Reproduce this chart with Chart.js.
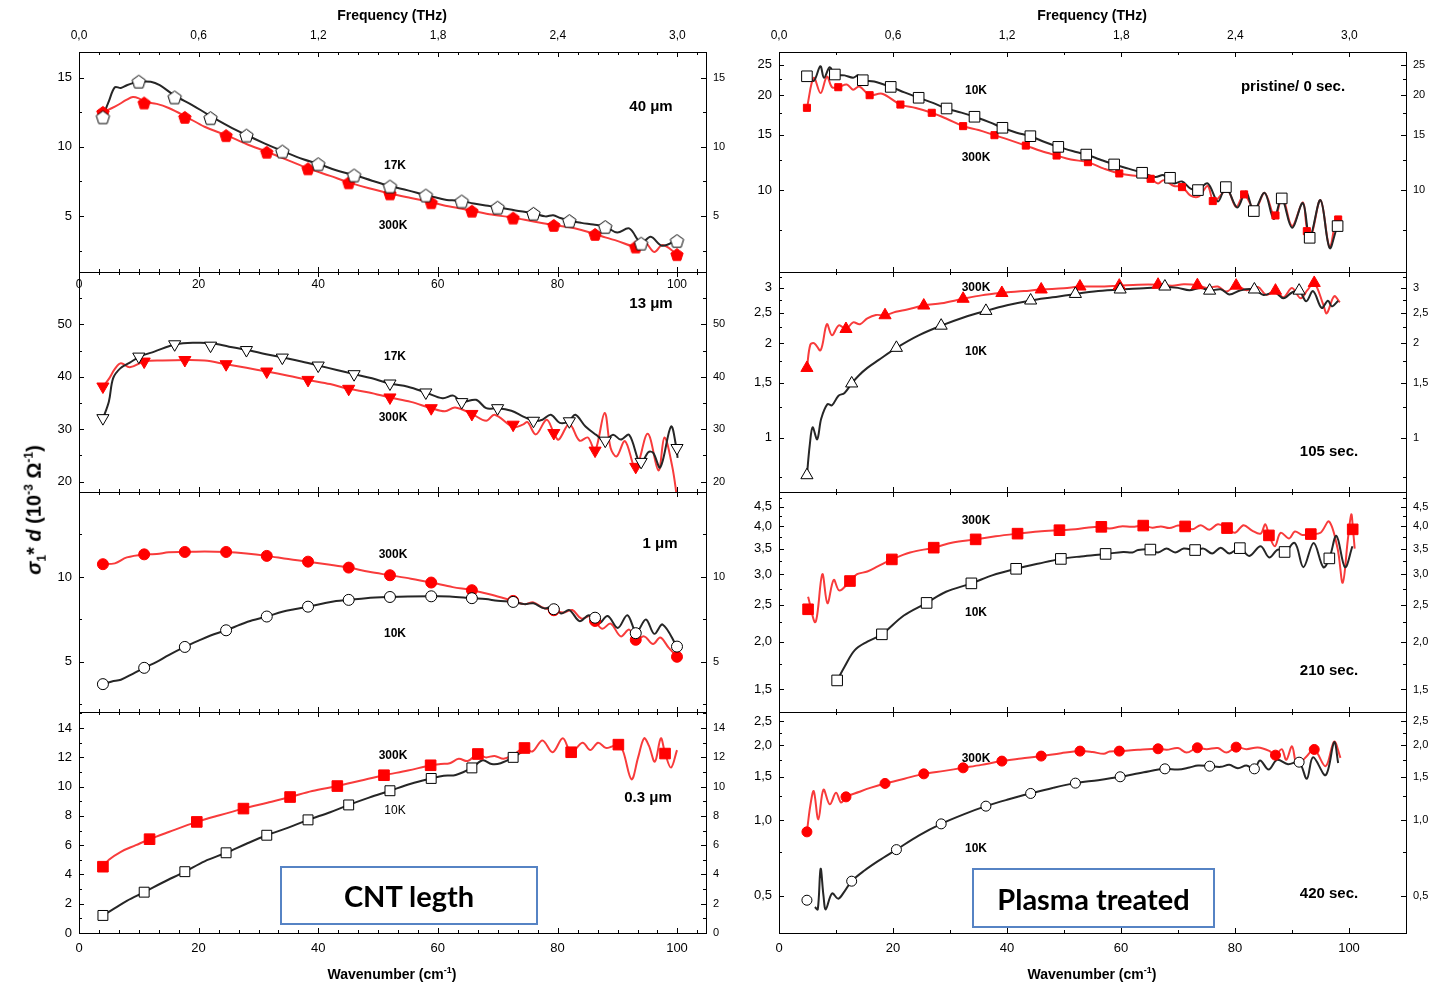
<!DOCTYPE html>
<html>
<head>
<meta charset="utf-8">
<script src="https://cdn.jsdelivr.net/npm/chart.js@4.4.0/dist/chart.umd.min.js"></script>
<style>
  body { margin: 0; background: #fff; }
  #page { position: relative; width: 1440px; height: 984px; overflow: hidden; font-family: "Liberation Sans", Arial, sans-serif; }
  #charts canvas { position: absolute; left: 0; top: 0; }
  .ttl { position: absolute; font-weight: bold; font-size: 14px; white-space: nowrap; transform: translateX(-50%); }
  .ttl sup { font-size: 9px; }
  .box { position: absolute; box-sizing: border-box; border: 2px solid #5683c4; display: flex; align-items: center; justify-content: center;
         font-family: Lato, "Open Sans", sans-serif; font-weight: bold; font-size: 29px; color: #000; }
  #ytitle { position: absolute; left: 35px; top: 510px; transform: translate(-50%, -50%) rotate(-90deg); font-weight: bold; font-size: 20px; white-space: nowrap; }
  #ytitle sup, #ytitle sub { font-size: 12px; }
</style>
</head>
<body>
<div id="page">
  <div id="charts"></div>
  <div class="ttl" style="left:392px; top:7px;">Frequency (THz)</div>
  <div class="ttl" style="left:1092px; top:7px;">Frequency (THz)</div>
  <div class="ttl" style="left:392px; top:965px;">Wavenumber (cm<sup>-1</sup>)</div>
  <div class="ttl" style="left:1092px; top:965px;">Wavenumber (cm<sup>-1</sup>)</div>
  <div id="ytitle"><i>σ</i><sub>1</sub>* <i>d</i> (10<sup>-3</sup> Ω<sup>-1</sup>)</div>
  <div class="box" style="left:280px; top:866px; width:258px; height:59px;">CNT legth</div>
  <div class="box" style="left:972px; top:868px; width:243px; height:60px;">Plasma treated</div>
</div>
<script>
// ---- tick labels ----
const wnTickVals = [0, 20, 40, 60, 80, 100];
const wnTickLabels = ['0', '20', '40', '60', '80', '100'];
const thzTickVals = [0, 0.6, 1.2, 1.8, 2.4, 3.0];
const thzTickLabels = ['0,0', '0,6', '1,2', '1,8', '2,4', '3,0'];
const THZ_CM = 33.356; // cm-1 per THz

const L1_yVals = [5, 10, 15], L1_yLabels = ['5', '10', '15'], L1_yMinor = [2.5, 7.5, 12.5];
const L2_yVals = [20, 30, 40, 50], L2_yLabels = ['20', '30', '40', '50'], L2_yMinor = [25, 35, 45, 55];
const L3_yVals = [5, 10], L3_yLabels = ['5', '10'], L3_yMinor = [2.5, 7.5, 12.5];
const L4_yVals = [0, 2, 4, 6, 8, 10, 12, 14], L4_yLabels = ['0', '2', '4', '6', '8', '10', '12', '14'], L4_yMinor = [1, 3, 5, 7, 9, 11, 13, 15];
const R1_yVals = [10, 15, 20, 25], R1_yLabels = ['10', '15', '20', '25'], R1_yMinor = [7.5, 12.5, 17.5, 22.5];
const R2_yVals = [1, 1.5, 2, 2.5, 3], R2_yLabels = ['1', '1,5', '2', '2,5', '3'], R2_yMinor = [0.75, 1.25, 1.75, 2.25, 2.75, 3.25];
const R3_yVals = [1.5, 2, 2.5, 3, 3.5, 4, 4.5], R3_yLabels = ['1,5', '2,0', '2,5', '3,0', '3,5', '4,0', '4,5'], R3_yMinor = [1.75, 2.25, 2.75, 3.25, 3.75, 4.25, 4.75];
const R4_yVals = [0.5, 1, 1.5, 2, 2.5], R4_yLabels = ['0,5', '1,0', '1,5', '2,0', '2,5'], R4_yMinor = [0.75, 1.25, 1.75, 2.25];

// ---- series: [wavenumber, value] ----
// CNT 40 um
const L1_17K = [[4,12.2],[5,13.3],[6,14.3],[7,14.25],[8,14.45],[9,14.6],[10,14.7],[12,14.7],[13.5,14.45],[16,13.7],[19,13.0],[21.5,12.35],[25,11.5],[28,10.85],[31,10.25],[34,9.7],[37.5,9.1],[40,8.77],[43,8.3],[46,7.96],[49,7.55],[52,7.16],[55,6.85],[58,6.5],[60,6.3],[61.5,6.15],[63,6.12],[64,6.08],[66,5.9],[68,5.75],[70,5.63],[73,5.4],[76,5.19],[78,4.97],[79.3,5.05],[80.5,4.85],[82,4.66],[84,4.5],[86,4.38],[88,4.23],[90,3.8],[92,4.1],[94,3.05],[95.6,3.5],[97.5,2.85],[100,3.25]];
const L1_17K_pts = [[4,12.16],[10,14.74],[16,13.6],[22,12.1],[28,10.84],[34,9.69],[40,8.77],[46,7.96],[52,7.16],[58,6.51],[64,6.08],[70,5.63],[76,5.19],[82,4.66],[88,4.23],[94,3.03],[100,3.22]];
const L1_300K = [[4,12.5],[6,12.9],[8,13.4],[9,13.6],[10,13.5],[11,13.25],[13,13.1],[15,12.8],[18,12.15],[21,11.45],[24.6,10.84],[28,10.2],[31.4,9.64],[35,9.02],[38.3,8.44],[42,7.9],[45.1,7.43],[48.5,7.0],[52,6.63],[55.5,6.3],[58.9,5.99],[62,5.68],[65.7,5.38],[69,5.1],[72.6,4.88],[76,4.6],[79.4,4.35],[82,4.18],[84,3.98],[86.3,3.7],[88,3.45],[90,3.2],[93.1,2.79],[94.6,3.1],[96.2,2.4],[97.6,2.9],[100,2.24]];
const L1_300K_pts = [[4,12.52],[10.9,13.2],[17.7,12.16],[24.6,10.84],[31.4,9.64],[38.3,8.44],[45.1,7.43],[52,6.63],[58.9,5.99],[65.7,5.38],[72.6,4.88],[79.4,4.35],[86.3,3.7],[93.1,2.79],[100,2.24]];
// CNT 13 um
const L2_17K = [[4,32.0],[5,35.3],[5.7,39.7],[6.9,41.6],[8.5,42.7],[10.2,43.85],[12.6,44.8],[16.2,46.2],[19.6,46.5],[22.2,46.4],[25.1,45.75],[28.2,45.1],[31.3,44.3],[34.1,43.66],[37.2,42.9],[40.2,42.1],[43.1,41.3],[46,40.5],[49,39.7],[52,38.7],[55,38.1],[58,37.0],[60.8,35.9],[62.6,36.4],[64,35.2],[66.4,35.6],[68.1,34.0],[70,34.0],[72.3,33.5],[74.3,32.4],[76,31.6],[77.5,31.8],[78.9,32.75],[80.4,31.2],[81.9,31.5],[83,32.75],[84.7,30.5],[86.5,28.9],[87.9,27.8],[89.3,28.95],[90.6,28.0],[92,28.9],[93.9,23.4],[95.2,25.6],[96,25.5],[97.2,22.7],[99,30.5],[99.9,26.4],[100.1,24.5]];
const L2_17K_pts = [[4,32.1],[10,43.85],[16,46.2],[22,45.94],[28,45.1],[34,43.66],[40,42.14],[46,40.49],[52,38.71],[58,37.0],[64,35.16],[70,34.0],[76,31.6],[82,31.5],[88,27.8],[94,23.75],[100,26.4]];
const L2_300K = [[4,38.1],[5,39.6],[6,41.5],[7,42.6],[8.5,41.8],[10.9,42.9],[14,43.1],[17.7,43.2],[21,43.1],[24.6,42.4],[28,41.7],[31.4,41.0],[35,40.2],[38.3,39.4],[42,38.6],[45.1,37.7],[48.5,37.0],[52,36.05],[55.5,35.2],[58.9,34.0],[61.2,33.4],[62.9,34.15],[65.7,32.9],[68.1,31.6],[69.5,32.75],[72.6,30.4],[74.3,30.9],[75,31.35],[76.4,29.0],[78.2,31.8],[79.4,29.3],[80.2,28.0],[82,31.0],[83.7,27.8],[85.1,28.4],[86.3,25.9],[87.9,33.1],[88.9,26.4],[89.9,24.8],[91.3,27.7],[93.1,22.6],[95.1,29.1],[96.9,22.1],[97.9,28.4],[99.2,22.9],[100,16.9]];
const L2_300K_pts = [[4,38.14],[10.9,42.9],[17.7,43.2],[24.6,42.4],[31.4,41.0],[38.3,39.4],[45.1,37.7],[52,36.05],[58.9,34.0],[65.7,32.9],[72.6,30.85],[79.4,29.26],[86.3,25.9],[93.1,22.8]];
// CNT 1 um
const L3_10K = [[4,3.69],[5.5,3.85],[7,3.95],[9,4.3],[10.9,4.65],[13,5.0],[15,5.4],[17.7,5.88],[20,6.25],[22,6.55],[24.6,6.86],[27,7.2],[29,7.45],[31.4,7.67],[34,7.95],[36,8.1],[38.3,8.25],[41,8.45],[43,8.58],[45.1,8.65],[48,8.75],[52,8.82],[55,8.85],[58.9,8.86],[62,8.85],[65.7,8.75],[68,8.7],[70,8.6],[72.6,8.53],[74.5,8.4],[76,8.45],[77.8,8.15],[79.3,8.25],[80.6,7.85],[82,8.05],[83.7,7.4],[85.3,7.75],[86.9,7.25],[88.4,7.7],[90.1,7.0],[91.7,7.75],[93.2,6.75],[94.8,7.5],[96.2,6.65],[97.6,7.2],[100,5.9]];
const L3_10K_pts = [[4,3.69],[10.9,4.65],[17.7,5.88],[24.6,6.86],[31.4,7.67],[38.3,8.25],[45.1,8.65],[52,8.82],[58.9,8.86],[65.7,8.75],[72.6,8.53],[79.4,8.1],[86.3,7.6],[93.1,6.69],[100,5.9]];
const L3_300K = [[4,10.75],[6,10.8],[8,11.15],[10.9,11.33],[13,11.35],[15,11.45],[17.7,11.47],[21,11.5],[24.6,11.47],[28,11.38],[31.4,11.24],[35,11.05],[38.3,10.9],[42,10.72],[45.1,10.55],[48.5,10.3],[52,10.1],[55.5,9.9],[58.9,9.67],[62.5,9.4],[65.7,9.22],[69,8.95],[72.6,8.59],[74.5,8.4],[76,8.5],[77.5,8.2],[79.4,8.04],[81,7.9],[82.5,8.05],[84,7.55],[85.5,7.7],[86.3,7.41],[87.5,6.95],[88.9,7.25],[90.6,6.5],[92,6.9],[93.1,6.3],[94.5,6.5],[96,6.05],[97.2,6.43],[98.6,5.84],[100,5.3]];
const L3_300K_pts = [[4,10.75],[10.9,11.33],[17.7,11.47],[24.6,11.47],[31.4,11.24],[38.3,10.9],[45.1,10.55],[52,10.1],[58.9,9.67],[65.7,9.22],[72.6,8.59],[79.4,8.04],[86.3,7.41],[93.1,6.3],[100,5.3]];
// CNT 0.3 um
const L4_10K = [[4,1.2],[6,1.7],[8,2.2],[10.9,2.79],[14,3.45],[17.7,4.19],[21,4.9],[24.6,5.48],[28,6.1],[31.4,6.68],[35,7.2],[38.3,7.73],[42,8.25],[45.1,8.75],[48.5,9.25],[52,9.72],[55.5,10.2],[58.9,10.56],[61,10.75],[63,10.8],[65.7,11.28],[67.5,11.8],[69,11.55],[70.5,11.6],[72.6,12.0],[74.5,12.5]];
const L4_10K_pts = [[4,1.2],[10.9,2.79],[17.7,4.19],[24.6,5.48],[31.4,6.68],[38.3,7.73],[45.1,8.75],[52,9.72],[58.9,10.56],[65.7,11.28],[72.6,12.0]];
const L4_300K = [[4,4.5],[5,5.0],[7,5.55],[9.5,6.0],[11.8,6.41],[15,6.9],[19.7,7.59],[23.5,8.05],[27.5,8.5],[31.5,8.9],[35.3,9.29],[39,9.7],[43.2,10.04],[47,10.4],[51,10.78],[55,11.1],[58.8,11.46],[60.5,11.55],[62,11.6],[63.5,11.9],[65,11.75],[66.7,12.23],[68,12.0],[69.5,12.1],[71,11.9],[72.5,12.15],[74.5,12.64],[75.8,12.4],[77.5,13.15],[79.2,12.35],[80.9,13.3],[82.3,12.35],[84.2,13.0],[85.5,12.5],[86.8,13.0],[88.1,12.65],[89,12.72],[90.2,12.87],[91,12.4],[92.4,10.5],[93.5,12.0],[94.5,13.3],[95.3,12.8],[96.3,11.7],[97.3,13.3],[98,12.3],[99,11.3],[100,12.5]];
const L4_300K_pts = [[4,4.53],[11.8,6.41],[19.7,7.59],[27.5,8.5],[35.3,9.29],[43.2,10.04],[51,10.78],[58.8,11.46],[66.7,12.23],[74.5,12.64],[82.3,12.35],[90.2,12.87],[98,12.26]];
// plasma pristine / 0 s
const R1_10K = [[4.9,23.0],[6.1,22.2],[7.25,24.7],[7.9,22.7],[8.9,24.5],[9.8,23.25],[11.5,23.1],[13,22.7],[13.9,23.1],[14.7,22.3],[16.7,22.1],[19.6,21.24],[22,20.4],[24.5,19.62],[27,18.9],[29.4,18.14],[32,17.6],[34.3,17.08],[37,16.4],[39.2,15.76],[41.7,15.2],[44.1,14.82],[46.6,14.2],[49,13.71],[51.5,13.3],[53.9,12.96],[56.3,12.5],[58.8,12.06],[61.3,11.7],[63.7,11.35],[66,11.0],[67.5,11.15],[69.3,10.5],[70.7,10.65],[72.2,10.1],[73.5,10.0],[75.2,10.5],[77,9.2],[78.4,10.22],[80.4,8.8],[81.9,9.9],[83.3,8.58],[85.2,9.8],[86.8,8.1],[88.2,9.41],[90,7.6],[91.9,9.1],[93.1,7.06],[95,9.3],[96.6,6.55],[98,7.69],[98.4,7.6]];
const R1_10K_pts = [[4.9,22.95],[9.8,23.25],[14.7,22.3],[19.6,21.24],[24.5,19.62],[29.4,18.14],[34.3,17.08],[39.2,15.76],[44.1,14.82],[49,13.71],[53.9,12.96],[58.8,12.06],[63.7,11.35],[68.6,10.94],[73.5,10.0],[78.4,10.22],[83.3,8.58],[88.2,9.41],[93.1,7.06],[98,7.69]];
const R1_300K = [[4.9,18.2],[6.1,22.7],[7.3,20.3],[8.4,22.9],[9.3,21.2],[10.4,21.19],[11.9,21.6],[13,20.8],[14.1,21.3],[15.9,20.0],[18.1,20.2],[21.3,18.67],[24,18.2],[26.8,17.58],[29.5,16.8],[32.3,15.95],[35,15.5],[37.8,14.93],[40.5,14.4],[43.3,13.84],[46,13.3],[48.7,12.87],[51.2,12.5],[54.2,12.26],[57,11.7],[59.7,11.29],[62.5,11.1],[65.2,10.86],[66.5,10.5],[67.5,10.75],[69.3,10.3],[70.7,10.25],[72.2,9.6],[73.7,9.55],[75.2,10.3],[76.3,9.2],[78.6,10.0],[80.2,8.85],[81.6,9.69],[83.5,8.65],[85.2,9.8],[87,8.2],[88.3,9.5],[90,7.7],[91.9,9.15],[92.6,7.6],[93.3,7.1],[95,9.3],[96.6,6.6],[97.8,8.2],[98.3,8.0]];
const R1_300K_pts = [[4.9,18.23],[10.4,21.19],[15.9,19.99],[21.3,18.67],[26.8,17.58],[32.3,15.95],[37.8,14.93],[43.3,13.84],[48.7,12.87],[54.2,12.26],[59.7,11.29],[65.2,10.86],[70.7,10.22],[76.1,9.23],[81.6,9.69],[87.1,8.31],[92.6,7.41],[98.1,8.07]];
// plasma 105 s
const R2_10K = [[4.9,0.761],[5.4,0.95],[5.9,1.08],[6.7,0.99],[7.4,1.15],[8.5,1.28],[9.3,1.27],[10.4,1.36],[11.5,1.39],[12.75,1.49],[14,1.58],[15.5,1.67],[17.5,1.77],[20.6,1.934],[24.5,2.12],[28.45,2.275],[32.5,2.42],[36.3,2.535],[40,2.64],[44.2,2.735],[48,2.8],[52,2.87],[56,2.93],[59.85,2.965],[64,2.99],[67.7,3.02],[70,3.0],[72,2.95],[74,3.0],[75.55,2.94],[77.5,2.97],[79,2.86],[81,2.95],[83.4,2.965],[85,2.85],[87,2.9],[88.5,2.78],[90,2.9],[91.25,2.94],[92.5,2.72],[93.7,2.93],[95.2,2.59],[96.3,2.73],[97,2.62],[98.1,2.73]];
const R2_10K_pts = [[4.9,0.761],[12.75,1.49],[20.6,1.934],[28.45,2.275],[36.3,2.535],[44.15,2.735],[52,2.87],[59.85,2.965],[67.7,3.03],[75.55,2.94],[83.4,2.965],[91.25,2.94]];
const R2_300K = [[4.9,1.669],[5.5,1.98],[6.2,2.0],[7.3,1.9],[8.4,2.3],[9.3,2.12],[10.5,2.28],[11.75,2.22],[13,2.33],[14.2,2.3],[15.5,2.4],[17,2.46],[18.6,2.455],[20.5,2.52],[22.5,2.56],[25.4,2.636],[28.5,2.68],[32.3,2.77],[35.5,2.84],[39.1,2.89],[43,2.93],[46,2.965],[50,2.99],[52.8,3.03],[56,3.03],[59.7,3.05],[63,3.07],[66.5,3.07],[69,3.05],[71,3.08],[73.4,3.06],[75,3.0],[77,3.03],[78.5,2.92],[80.2,3.05],[82,2.95],[84,3.02],[85.5,2.85],[87.1,2.94],[88.5,2.8],[90,3.0],[91.5,2.78],[92.7,2.95],[93.9,3.11],[95.5,2.65],[96.1,2.49],[97.4,2.82],[98.4,2.7]];
const R2_300K_pts = [[4.9,1.669],[11.75,2.22],[18.6,2.455],[25.4,2.636],[32.3,2.77],[39.1,2.89],[46,2.965],[52.8,3.03],[59.7,3.05],[66.5,3.07],[73.4,3.06],[80.2,3.05],[87.1,2.94],[93.9,3.11]];
// plasma 210 s
const R3_10K = [[10.2,1.584],[11.5,1.72],[13.3,1.9],[15.5,2.0],[18.05,2.09],[21.9,2.34],[25.9,2.525],[29.3,2.7],[33.75,2.84],[37.4,2.98],[41.6,3.1],[45.6,3.2],[49.45,3.29],[53,3.34],[57.3,3.39],[60.4,3.43],[62,3.42],[63,3.47],[65.15,3.48],[66.5,3.42],[68,3.5],[69.5,3.42],[71,3.5],[73,3.47],[74.5,3.5],[76,3.4],[77.5,3.52],[79,3.4],[80.85,3.51],[82.5,3.35],[84.5,3.55],[86,3.32],[87.5,3.48],[88.7,3.43],[90.5,3.62],[92,3.13],[93.8,3.62],[95.5,3.13],[96.55,3.3],[97.8,3.78],[99.3,3.13],[100.6,3.55]];
const R3_10K_pts = [[10.2,1.584],[18.05,2.09],[25.9,2.525],[33.75,2.84],[41.6,3.1],[49.45,3.29],[57.3,3.39],[65.15,3.48],[73,3.47],[80.85,3.51],[88.7,3.43],[96.55,3.3]];
const R3_300K = [[5.1,2.62],[6.4,2.25],[7.6,3.0],[8.5,2.52],[9.6,2.9],[10.6,2.72],[12.45,2.88],[13.7,3.0],[15.5,3.05],[17.4,3.15],[19.8,3.28],[23,3.42],[27.15,3.52],[30.5,3.63],[34.5,3.7],[38,3.77],[41.85,3.83],[45.5,3.88],[49.2,3.91],[52,3.93],[54,3.97],[56.55,3.99],[58,3.95],[60,4.0],[62,3.99],[63.9,4.02],[65.5,3.97],[67,4.0],[68.5,3.96],[70,4.02],[71.25,4.0],[72.5,3.93],[74,4.03],[75.5,3.92],[77,4.05],[78.6,3.96],[80,3.85],[81.5,4.03],[83,3.9],[84.5,3.83],[85.3,4.05],[86,3.79],[87,3.55],[88,3.85],[89.5,3.72],[90.5,3.88],[91.8,3.8],[93.3,3.82],[95,3.85],[96.5,4.12],[98,3.5],[98.9,2.85],[99.8,3.7],[100.4,4.3],[100.7,3.93],[101,3.5]];
const R3_300K_pts = [[5.1,2.43],[12.45,2.88],[19.8,3.28],[27.15,3.52],[34.5,3.7],[41.85,3.83],[49.2,3.91],[56.55,3.99],[63.9,4.02],[71.25,4.0],[78.6,3.96],[85.95,3.79],[93.3,3.82],[100.65,3.93]];
// plasma 420 s
const R4_10K = [[6.3,0.45],[6.8,0.44],[7.3,0.64],[7.8,0.5],[8.2,0.44],[9.3,0.51],[10.4,0.486],[11.5,0.52],[12.75,0.571],[15,0.63],[17.5,0.69],[20.6,0.764],[24.5,0.87],[28.45,0.969],[32.5,1.06],[36.3,1.141],[40,1.21],[44.15,1.283],[48,1.35],[52,1.411],[56,1.45],[59.85,1.496],[64,1.56],[67.7,1.61],[70,1.6],[72,1.63],[73.5,1.66],[75.55,1.65],[77.5,1.64],[79,1.67],[80.5,1.62],[82,1.66],[83.4,1.61],[84.4,1.74],[85.9,1.6],[87.4,1.75],[89.3,1.68],[91.25,1.712],[92.6,1.47],[93.7,1.79],[95.9,1.52],[97.4,2.06],[98.1,1.7]];
const R4_10K_pts = [[4.9,0.479],[12.75,0.571],[20.6,0.764],[28.45,0.969],[36.3,1.141],[44.15,1.283],[52,1.411],[59.85,1.496],[67.7,1.61],[75.55,1.65],[83.4,1.61],[91.25,1.712]];
const R4_300K = [[4.9,0.9],[5.5,1.15],[6.1,1.31],[6.9,1.01],[7.8,1.33],[8.9,1.16],[10,1.29],[10.9,1.18],[11.75,1.243],[14,1.3],[16,1.35],[18.6,1.407],[22,1.47],[25.4,1.537],[29,1.58],[32.3,1.625],[35.5,1.67],[39.1,1.729],[42.5,1.77],[46,1.811],[49.5,1.86],[52.8,1.896],[55,1.88],[57,1.85],[58,1.89],[59.7,1.896],[63,1.92],[66.5,1.937],[68,1.92],[70,1.95],[71.5,1.87],[73.4,1.955],[75,1.93],[77,1.95],[78.5,1.87],[80.2,1.967],[82,1.93],[84,1.96],[86,1.9],[87.1,1.827],[88.2,1.93],[89,1.75],[90,1.98],[90.9,1.67],[92.5,1.8],[93.9,1.925],[95.9,1.65],[97.4,2.07],[98.5,1.78]];
const R4_300K_pts = [[4.9,0.9],[11.75,1.243],[18.6,1.407],[25.4,1.537],[32.3,1.625],[39.1,1.729],[46,1.811],[52.8,1.896],[59.7,1.896],[66.5,1.937],[73.4,1.955],[80.2,1.967],[87.1,1.827],[93.9,1.925]];

// ---- layout ----
const COLS = { L: { left: 79, right: 706, xMax: 104.85, tickStep: 0.1, majorEvery: 6 },
               R: { left: 779, right: 1406, xMax: 110, tickStep: 0.3, majorEvery: 2 } };
const ROWS = [[52, 272], [272, 492], [492, 712], [712, 933]];
const AX = { left: 60, right: 30, top: 45, bottom: 45 }; // reserved axis box sizes
const RED = '#ff0000', RED_LINE = '#f83b3b', BLACK_LINE = '#262626';

function pentagon(fill, stroke, r) {
  const c = document.createElement('canvas');
  const s = Math.ceil(2 * r + 3);
  c.width = s; c.height = s;
  const g = c.getContext('2d');
  g.beginPath();
  for (let i = 0; i < 5; i++) {
    const a = -Math.PI / 2 + i * 2 * Math.PI / 5;
    const px = s / 2 + r * Math.cos(a), py = s / 2 + 1 + r * Math.sin(a);
    if (i) g.lineTo(px, py); else g.moveTo(px, py);
  }
  g.closePath();
  g.fillStyle = fill; g.fill();
  g.strokeStyle = stroke; g.lineWidth = 1; g.stroke();
  return c;
}

const panels = [
  { col: 'L', row: 0, yMin: 0.95, yMax: 16.85, yVals: L1_yVals, yLabels: L1_yLabels, yMinor: L1_yMinor,
    black: L1_17K, blackPts: L1_17K_pts, red: L1_300K, redPts: L1_300K_pts,
    bm: { style: pentagon('#fff', '#000', 7), r: 7 }, rm: { style: pentagon(RED, RED, 6.5), r: 7 },
    top: 'thz', bottomLabels: 5,
    notes: [['40 μm', 572, 55, 15, true], ['17K', 316, 114, 12, true], ['300K', 314, 174, 12, true]] },
  { col: 'L', row: 1, yMin: 18, yMax: 60, yVals: L2_yVals, yLabels: L2_yLabels, yMinor: L2_yMinor,
    black: L2_17K, blackPts: L2_17K_pts, red: L2_300K, redPts: L2_300K_pts,
    bm: { style: 'triangle', r: 7, rot: 180 }, rm: { style: 'triangle', r: 7, rot: 180 },
    notes: [['13 μm', 572, 32, 15, true], ['17K', 316, 85, 12, true], ['300K', 314, 146, 12, true]] },
  { col: 'L', row: 2, yMin: 2.05, yMax: 15, yVals: L3_yVals, yLabels: L3_yLabels, yMinor: L3_yMinor,
    black: L3_10K, blackPts: L3_10K_pts, red: L3_300K, redPts: L3_300K_pts,
    bm: { style: 'circle', r: 5.5 }, rm: { style: 'circle', r: 5.5 },
    notes: [['1 μm', 581, 52, 15, true], ['300K', 314, 63, 12, true], ['10K', 316, 142, 12, true]] },
  { col: 'L', row: 3, yMin: 0, yMax: 15.1, yVals: L4_yVals, yLabels: L4_yLabels, yMinor: L4_yMinor,
    black: L4_10K, blackPts: L4_10K_pts, red: L4_300K, redPts: L4_300K_pts,
    bm: { style: 'rect', r: 7 }, rm: { style: 'rect', r: 7.5 },
    bottomLabels: 8,
    notes: [['300K', 314, 44, 12, true], ['10K', 316, 99, 12, false], ['0.3 μm', 569, 86, 15, true]] },
  { col: 'R', row: 0, log: true, yMin: 5.5, yMax: 27.4, yVals: R1_yVals, yLabels: R1_yLabels, yMinor: R1_yMinor,
    black: R1_10K, blackPts: R1_10K_pts, red: R1_300K, redPts: R1_300K_pts,
    bm: { style: 'rect', r: 7.5 }, rm: { style: 'rect', r: 5 },
    top: 'thz',
    notes: [['10K', 197, 39, 12, true], ['300K', 197, 106, 12, true], ['pristine/ 0 sec.', 514, 35, 15, true]] },
  { col: 'R', row: 1, log: true, yMin: 0.673, yMax: 3.37, yVals: R2_yVals, yLabels: R2_yLabels, yMinor: R2_yMinor,
    black: R2_10K, blackPts: R2_10K_pts, red: R2_300K, redPts: R2_300K_pts,
    bm: { style: 'triangle', r: 7 }, rm: { style: 'triangle', r: 7 },
    notes: [['300K', 197, 16, 12, true], ['10K', 197, 80, 12, true], ['105 sec.', 550, 180, 15, true]] },
  { col: 'R', row: 2, log: true, yMin: 1.31, yMax: 4.92, yVals: R3_yVals, yLabels: R3_yLabels, yMinor: R3_yMinor,
    black: R3_10K, blackPts: R3_10K_pts, red: R3_300K, redPts: R3_300K_pts,
    bm: { style: 'rect', r: 7.5 }, rm: { style: 'rect', r: 7.5 },
    notes: [['300K', 197, 29, 12, true], ['10K', 197, 121, 12, true], ['210 sec.', 550, 179, 15, true]] },
  { col: 'R', row: 3, log: true, yMin: 0.354, yMax: 2.72, yVals: R4_yVals, yLabels: R4_yLabels, yMinor: R4_yMinor,
    black: R4_10K, blackPts: R4_10K_pts, red: R4_300K, redPts: R4_300K_pts,
    bm: { style: 'circle', r: 5 }, rm: { style: 'circle', r: 5 },
    bottomLabels: 8,
    notes: [['300K', 197, 47, 12, true], ['10K', 197, 137, 12, true], ['420 sec.', 550, 182, 15, true]] }
];

// inward tick marks (they cross where two panels meet) + panel texts
const decor = {
  id: 'decor',
  afterDraw(chart, args, o) {
    if (!o || !o.xTicks) return;
    const { ctx, chartArea: a } = chart;
    const xs = chart.scales.x, ys = chart.scales.y;
    ctx.save();
    ctx.strokeStyle = '#000';
    ctx.lineWidth = 1;
    ctx.beginPath();
    o.xTicks.forEach(([v, major]) => {
      const px = Math.round(xs.getPixelForValue(v)) + 0.5;
      const len = major ? 5 : 3;
      ctx.moveTo(px, a.top); ctx.lineTo(px, a.top + len);
      ctx.moveTo(px, a.bottom); ctx.lineTo(px, a.bottom - len);
    });
    o.yTicks.forEach(([v, major]) => {
      const py = Math.round(ys.getPixelForValue(v)) + 0.5;
      if (py < a.top || py > a.bottom) return;
      const len = major ? 5 : 3;
      ctx.moveTo(a.left, py); ctx.lineTo(a.left + len, py);
      ctx.moveTo(a.right, py); ctx.lineTo(a.right - len, py);
    });
    ctx.stroke();
    ctx.fillStyle = '#000';
    ctx.textAlign = 'center';
    ctx.textBaseline = 'middle';
    o.notes.forEach(([t, dx, dy, size, bold]) => {
      ctx.font = (bold ? 'bold ' : '') + size + 'px "Liberation Sans", Arial, sans-serif';
      ctx.fillText(t, a.left + dx, a.top + dy);
    });
    ctx.restore();
  }
};
Chart.register(decor);

const FONT = '"Liberation Sans", Arial, sans-serif';

function xAxis(p, col, pos) {
  const isTop = pos === 'top';
  const showLabels = isTop ? p.top === 'thz' : p.bottomLabels !== undefined;
  const vals = isTop ? thzTickVals.map(f => f * THZ_CM) : wnTickVals;
  const labels = isTop ? thzTickLabels : wnTickLabels;
  return {
    type: 'linear', position: pos, min: 0, max: col.xMax, bounds: 'data',
    grid: { display: false, drawTicks: false },
    border: { display: true, color: '#000', width: 1 },
    afterFit: s => { s.height = isTop ? AX.top : AX.bottom; },
    afterBuildTicks: s => { s.ticks = vals.map(v => ({ value: v })); },
    ticks: { display: showLabels, autoSkip: false, maxRotation: 0, minRotation: 0,
             padding: isTop ? 9 : (p.bottomLabels || 0), color: '#000',
             font: { family: FONT, size: isTop ? 12 : (p.row === 0 ? 12 : 13) },
             callback: (v, i) => labels[i] }
  };
}

function yAxis(p, pos) {
  const isLeft = pos === 'left';
  return {
    type: p.log ? 'logarithmic' : 'linear', position: pos, min: p.yMin, max: p.yMax, bounds: 'data',
    grid: { display: false, drawTicks: false },
    border: { display: true, color: '#000', width: 1 },
    afterFit: s => { s.width = isLeft ? AX.left : AX.right; },
    afterBuildTicks: s => { s.ticks = p.yVals.map(v => ({ value: v })); },
    ticks: { autoSkip: false, padding: isLeft ? 7 : 7, color: '#000',
             font: { family: FONT, size: isLeft ? 13 : 11 },
             callback: (v, i) => p.yLabels[i] }
  };
}

function lineSet(pts, color, order) {
  return { data: pts.map(([x, y]) => ({ x, y })), showLine: true, borderColor: color, borderWidth: 2,
           pointRadius: 0, tension: 0.35, order: order };
}
function markSet(pts, m, fill, stroke, order) {
  return { data: pts.map(([x, y]) => ({ x, y })), showLine: false, pointStyle: m.style, pointRadius: m.r,
           pointRotation: m.rot || 0, pointBackgroundColor: fill, pointBorderColor: stroke, pointBorderWidth: 1,
           order: order };
}

const holder = document.getElementById('charts');
panels.forEach(p => {
  const col = COLS[p.col];
  const [top, bottom] = ROWS[p.row];
  const cv = document.createElement('canvas');
  cv.width = 1440; cv.height = 984;
  holder.appendChild(cv);

  const xTicks = [];
  for (let k = 0; k * col.tickStep * THZ_CM <= col.xMax; k++) {
    xTicks.push([k * col.tickStep * THZ_CM, k % col.majorEvery === 0]);
  }
  const yTicks = p.yVals.map(v => [v, true]).concat(p.yMinor.map(v => [v, false]));

  new Chart(cv, {
    type: 'scatter',
    data: {
      datasets: [
        markSet(p.blackPts, p.bm, '#fff', '#000', 0),
        markSet(p.redPts, p.rm, RED, RED, 1),
        lineSet(p.black, BLACK_LINE, 2),
        lineSet(p.red, RED_LINE, 3)
      ]
    },
    options: {
      responsive: false, animation: false, devicePixelRatio: 1, events: [],
      layout: { padding: { left: col.left - AX.left, right: 1440 - col.right - AX.right,
                           top: top - AX.top, bottom: 984 - bottom - AX.bottom } },
      plugins: {
        legend: { display: false }, tooltip: { enabled: false },
        decor: { xTicks, yTicks, notes: p.notes }
      },
      scales: {
        x: xAxis(p, col, 'bottom'),
        xTop: xAxis(p, col, 'top'),
        y: yAxis(p, 'left'),
        yRight: yAxis(p, 'right')
      }
    }
  });
});
</script>
</body>
</html>
